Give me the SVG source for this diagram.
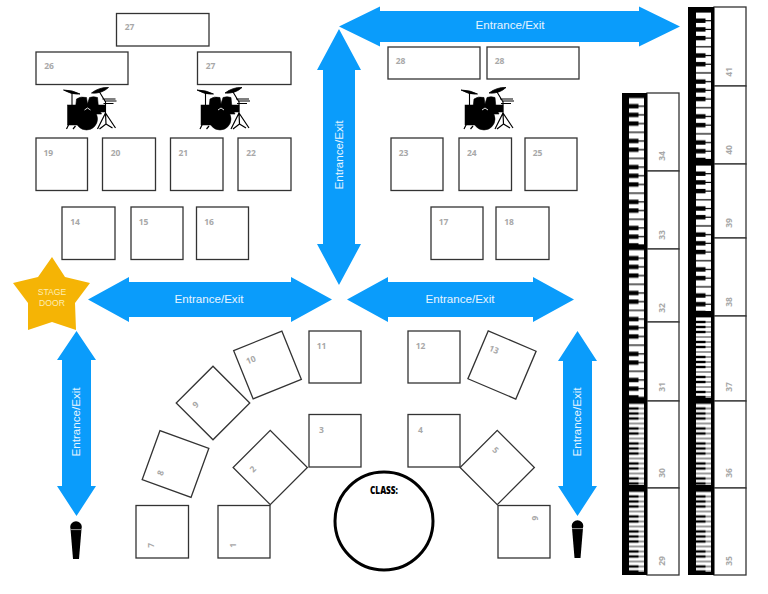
<svg xmlns="http://www.w3.org/2000/svg" width="768" height="594" viewBox="0 0 768 594">
<style>
.seat{fill:#fff;stroke:#333;stroke-width:1.3}
.num{fill:#a8a8a8;font:bold 8.5px "Open Sans","DejaVu Sans",sans-serif;text-anchor:middle}
.arrow{fill:#0a9cfb}
.lbl{fill:#e8f5ff;font:11.6px "Liberation Sans",Arial,sans-serif;text-anchor:middle}
.frame{fill:#000}
.star{fill:#f5b405}
.st{fill:#fdeeb5;font:8.6px "Liberation Sans",Arial,sans-serif;text-anchor:middle}
</style>
<defs>
<pattern id="bigKeys" width="15" height="60.9" patternUnits="userSpaceOnUse">
<rect width="15" height="60.9" fill="#fff"/>
<g fill="#000">
<rect y="8.1" width="15" height="1.2"/><rect y="16.8" width="15" height="1.2"/><rect y="25.5" width="15" height="1.2"/><rect y="34.2" width="15" height="1.2"/><rect y="42.9" width="15" height="1.2"/><rect y="51.6" width="15" height="1.2"/><rect y="60.3" width="15" height="0.6"/><rect y="0" width="15" height="0.6"/>
<rect y="6.5" width="9.5" height="4.4"/><rect y="15.2" width="9.5" height="4.4"/><rect y="23.9" width="9.5" height="4.4"/><rect y="41.3" width="9.5" height="4.4"/><rect y="50" width="9.5" height="4.4"/>
</g>
</pattern>
<pattern id="smallKeys" width="15" height="35" patternUnits="userSpaceOnUse">
<rect width="15" height="35" fill="#fff"/>
<g fill="#000">
<rect y="4.6" width="15" height="0.8"/><rect y="9.6" width="15" height="0.8"/><rect y="14.6" width="15" height="0.8"/><rect y="19.6" width="15" height="0.8"/><rect y="24.6" width="15" height="0.8"/><rect y="29.6" width="15" height="0.8"/><rect y="34.6" width="15" height="0.4"/><rect y="0" width="15" height="0.4"/>
<rect y="3.8" width="9.5" height="2.4"/><rect y="8.8" width="9.5" height="2.4"/><rect y="13.8" width="9.5" height="2.4"/><rect y="23.8" width="9.5" height="2.4"/><rect y="28.8" width="9.5" height="2.4"/>
</g>
</pattern>
<symbol id="drums" overflow="visible">
<g fill="#000" stroke="#000">
<path d="M0 2 Q9 2 16.500 6 Q8 7 0 2Z M28 5 Q36 -1 45 -0.500 Q38 6 28 5Z" stroke-width="0.8"/>
<path d="M8.500 5V20 M36 4L42 14V26 M39 11H52 M41 13H53 M40 15.500H50" fill="none" stroke-width="1.1"/>
<path d="M12 20 L13 11 Q17 8 23 9.500 L24 16 L26 9.500 Q30 8 34 9.500 L35 20 L38 26 L9 26Z" stroke-width="0.6"/>
<rect x="4" y="17" width="11" height="20" stroke-width="0.5"/>
<rect x="33" y="17" width="9" height="7" stroke-width="0.5"/>
<circle cx="23" cy="31" r="11" stroke-width="0.5"/>
<path d="M21 22 L24 20 L27 22" fill="none" stroke="#fff" stroke-width="0.9"/>
<path d="M5.500 36 L3 41 M12 38 L9.500 41 M42 25 L34 41 M42 25 L52 40 M42 25 L42.500 36 L36 41 M42.500 36 L49 40" fill="none" stroke-width="1.2"/>
</g>
</symbol>
<symbol id="mic" overflow="visible">
<circle cx="0" cy="0" r="5.8" fill="#000"/>
<path d="M-5.500 2 L-3 32 H3 L5.500 2Z" fill="#000"/>
<path d="M-5.500 2.600 H5.500" stroke="#fff" stroke-width="0.6"/>
</symbol>
</defs>
<rect width="768" height="594" fill="#fff"/>

<g id="connectors">
<g id="arrow-top"><polygon class="arrow" points="339,26.5 380,6.5 380,11 639,11 639,6.5 680,26.5 639,46.5 639,42 380,42 380,46.5"/><text class="lbl" x="510" y="29">Entrance/Exit</text></g>
<g id="arrow-center-v"><polygon class="arrow" points="339,29 361,70 355,70 355,244 361,244 339,285 317,244 323,244 323,70 317,70"/><text class="lbl" transform="translate(343,155) rotate(-90)">Entrance/Exit</text></g>
<g id="arrow-left-h"><polygon class="arrow" points="88,299.5 129,277 129,282 291,282 291,277 332,299.5 291,322 291,317 129,317 129,322"/><text class="lbl" x="209" y="302.5">Entrance/Exit</text></g>
<g id="arrow-right-h"><polygon class="arrow" points="347,299.5 388,277 388,282 533,282 533,277 574,299.5 533,322 533,317 388,317 388,322"/><text class="lbl" x="460" y="302.5">Entrance/Exit</text></g>
<g id="arrow-left-v"><polygon class="arrow" points="76.5,331 96,360 91,360 91,486 96,486 76.5,516 57,486 62,486 62,360 57,360"/><text class="lbl" transform="translate(80,422) rotate(-90)">Entrance/Exit</text></g>
<g id="arrow-right-v"><polygon class="arrow" points="577.5,331 597,361 592,361 592,486 597,486 577.5,516 558,486 563,486 563,361 558,361"/><text class="lbl" transform="translate(581,422) rotate(-90)">Entrance/Exit</text></g>
</g>

<g id="star"><polygon class="star" points="52,257 65,277 90,283 75,303 76,330 52,322 28,330 28,303 13,283 38,277"/><text class="st" x="52" y="295">STAGE</text><text class="st" x="52" y="306">DOOR</text></g>

<g id="seat-27a" transform="translate(116.5,13.5)"><rect class="seat" width="92.5" height="32.5"/><text class="num" x="13" y="16.5">27</text></g>
<g id="seat-26" transform="translate(36,52)"><rect class="seat" width="92" height="32.5"/><text class="num" x="13" y="17">26</text></g>
<g id="seat-27b" transform="translate(197.5,52)"><rect class="seat" width="93.5" height="32.5"/><text class="num" x="13" y="17">27</text></g>
<g id="seat-28a" transform="translate(388,47)"><rect class="seat" width="92" height="32"/><text class="num" x="12.500" y="17">28</text></g>
<g id="seat-28b" transform="translate(487,47)"><rect class="seat" width="92" height="32"/><text class="num" x="12.500" y="17">28</text></g>

<g id="seat-19" transform="translate(61.75,164.25)"><rect class="seat" x="-25.75" y="-26.25" width="51.5" height="52.5"/><text class="num" x="-13.500" y="-8">19</text></g>
<g id="seat-20" transform="translate(129,164.25)"><rect class="seat" x="-26.5" y="-26.25" width="53" height="52.5"/><text class="num" x="-13.500" y="-8">20</text></g>
<g id="seat-21" transform="translate(196.75,164.25)"><rect class="seat" x="-26.25" y="-26.25" width="52.5" height="52.5"/><text class="num" x="-13.500" y="-8">21</text></g>
<g id="seat-22" transform="translate(264.5,164.25)"><rect class="seat" x="-26.5" y="-26.25" width="53" height="52.5"/><text class="num" x="-13.500" y="-8">22</text></g>
<g id="seat-23" transform="translate(417,164.25)"><rect class="seat" x="-26" y="-26.25" width="52" height="52.5"/><text class="num" x="-13.500" y="-8">23</text></g>
<g id="seat-24" transform="translate(485.25,164.25)"><rect class="seat" x="-26.25" y="-26.25" width="52.5" height="52.5"/><text class="num" x="-13.500" y="-8">24</text></g>
<g id="seat-25" transform="translate(551,164.25)"><rect class="seat" x="-26" y="-26.25" width="52" height="52.5"/><text class="num" x="-13.500" y="-8">25</text></g>
<g id="seat-14" transform="translate(88.5,233.25)"><rect class="seat" x="-26.5" y="-26.25" width="53" height="52.5"/><text class="num" x="-13.500" y="-8">14</text></g>
<g id="seat-15" transform="translate(157,233.25)"><rect class="seat" x="-26" y="-26.25" width="52" height="52.5"/><text class="num" x="-13.500" y="-8">15</text></g>
<g id="seat-16" transform="translate(222.5,233.25)"><rect class="seat" x="-26" y="-26.25" width="52" height="52.5"/><text class="num" x="-13.500" y="-8">16</text></g>
<g id="seat-17" transform="translate(457,233.25)"><rect class="seat" x="-26" y="-26.25" width="52" height="52.5"/><text class="num" x="-13.500" y="-8">17</text></g>
<g id="seat-18" transform="translate(522.5,233.25)"><rect class="seat" x="-26.5" y="-26.25" width="53" height="52.5"/><text class="num" x="-13.500" y="-8">18</text></g>

<g id="seat-11" transform="translate(335,357)"><rect class="seat" x="-26" y="-26" width="52" height="52"/><text class="num" x="-13.500" y="-8">11</text></g>
<g id="seat-12" transform="translate(434,357)"><rect class="seat" x="-26" y="-26" width="52" height="52"/><text class="num" x="-13.500" y="-8">12</text></g>
<g id="seat-3" transform="translate(335,440.75)"><rect class="seat" x="-26" y="-26.25" width="52" height="52.5"/><text class="num" x="-13.500" y="-8">3</text></g>
<g id="seat-4" transform="translate(434,440.75)"><rect class="seat" x="-26" y="-26.25" width="52" height="52.5"/><text class="num" x="-13.500" y="-8">4</text></g>
<g id="seat-13" transform="translate(502,365) rotate(23)"><rect class="seat" x="-26" y="-26" width="52" height="52"/><text class="num" x="-13.500" y="-8">13</text></g>
<g id="seat-5" transform="translate(497.25,467.5) rotate(45)"><rect class="seat" x="-26.250" y="-26.250" width="52.5" height="52.5"/><text class="num" x="-13.500" y="-8">5</text></g>
<g id="seat-6" transform="translate(524,531.75) rotate(90)"><rect class="seat" x="-26.250" y="-26" width="52.5" height="52"/><text class="num" x="-13.500" y="-8">6</text></g>
<g id="seat-7" transform="translate(162.25,531.75) rotate(-90)"><rect class="seat" x="-26.250" y="-26.250" width="52.5" height="52.5"/><text class="num" x="-13.500" y="-8">7</text></g>
<g id="seat-1" transform="translate(244,531.75) rotate(-90)"><rect class="seat" x="-26.250" y="-26" width="52.5" height="52"/><text class="num" x="-13.500" y="-8">1</text></g>
<g id="seat-2" transform="translate(270.25,467.5) rotate(-45)"><rect class="seat" x="-26.250" y="-26.250" width="52.5" height="52.5"/><text class="num" x="-13.500" y="-8">2</text></g>
<g id="seat-8" transform="translate(175.5,464) rotate(-70)"><rect class="seat" x="-26" y="-26" width="52" height="52"/><text class="num" x="-13.500" y="-8">8</text></g>
<g id="seat-9" transform="translate(213,403) rotate(-45)"><rect class="seat" x="-26" y="-26" width="52" height="52"/><text class="num" x="-13.500" y="-8">9</text></g>
<g id="seat-10" transform="translate(267.5,365) rotate(-22)"><rect class="seat" x="-26" y="-26" width="52" height="52"/><text class="num" x="-13.500" y="-8">10</text></g>

<g id="class-circle"><circle cx="384" cy="521" r="49" fill="#fff" stroke="#000" stroke-width="3"/><text x="384" y="494" text-anchor="middle" style="font:800 10.5px 'Open Sans',sans-serif" textLength="28" lengthAdjust="spacingAndGlyphs">CLASS:</text></g>

<g id="drums-1"><use href="#drums" transform="translate(63.5,88)"/></g>
<g id="drums-2"><use href="#drums" transform="translate(197,88)"/></g>
<g id="drums-3"><use href="#drums" transform="translate(461,88)"/></g>
<g id="mic-left"><use href="#mic" transform="translate(76,527)"/></g>
<g id="mic-right"><use href="#mic" transform="translate(577.5,526)"/></g>

<g id="keyboard-left">
<g id="seat-34" transform="translate(647,93)"><rect class="seat" width="32" height="78"/><text class="num" transform="translate(18,63) rotate(-90)">34</text></g>
<g id="seat-33" transform="translate(647,171)"><rect class="seat" width="32" height="78"/><text class="num" transform="translate(18,64) rotate(-90)">33</text></g>
<g id="seat-32" transform="translate(647,249)"><rect class="seat" width="32" height="73"/><text class="num" transform="translate(18,59) rotate(-90)">32</text></g>
<g id="seat-31" transform="translate(647,322)"><rect class="seat" width="32" height="79"/><text class="num" transform="translate(18,65) rotate(-90)">31</text></g>
<g id="seat-30" transform="translate(647,401)"><rect class="seat" width="32" height="87"/><text class="num" transform="translate(18,72) rotate(-90)">30</text></g>
<g id="seat-29" transform="translate(647,488)"><rect class="seat" width="32" height="87"/><text class="num" transform="translate(18,73) rotate(-90)">29</text></g>
<g transform="translate(629,97.5)"><rect class="frame" x="-7" y="-4.500" width="25" height="155"/><rect width="15" height="147" fill="url(#bigKeys)"/></g>
<g transform="translate(629,249.5)"><rect class="frame" x="-7" y="-1.500" width="25" height="153"/><rect width="15" height="148" fill="url(#bigKeys)"/></g>
<g transform="translate(629,403.5)"><rect class="frame" x="-7" y="-2.500" width="25" height="87"/><rect width="15" height="81.500" fill="url(#smallKeys)"/></g>
<g transform="translate(629,491.5)"><rect class="frame" x="-7" y="-3.500" width="25" height="87"/><rect width="15" height="80.500" fill="url(#smallKeys)"/></g>
</g>

<g id="keyboard-right">
<g id="seat-41" transform="translate(714,7)"><rect class="seat" width="32" height="79"/><text class="num" transform="translate(18,65) rotate(-90)">41</text></g>
<g id="seat-40" transform="translate(714,86)"><rect class="seat" width="32" height="78"/><text class="num" transform="translate(18,64) rotate(-90)">40</text></g>
<g id="seat-39" transform="translate(714,164)"><rect class="seat" width="32" height="74"/><text class="num" transform="translate(18,59) rotate(-90)">39</text></g>
<g id="seat-38" transform="translate(714,238)"><rect class="seat" width="32" height="78"/><text class="num" transform="translate(18,64) rotate(-90)">38</text></g>
<g id="seat-37" transform="translate(714,316)"><rect class="seat" width="32" height="85"/><text class="num" transform="translate(18,71) rotate(-90)">37</text></g>
<g id="seat-36" transform="translate(714,401)"><rect class="seat" width="32" height="87"/><text class="num" transform="translate(18,72) rotate(-90)">36</text></g>
<g id="seat-35" transform="translate(714,488)"><rect class="seat" width="32" height="87"/><text class="num" transform="translate(18,73) rotate(-90)">35</text></g>
<g transform="translate(696,12)"><rect class="frame" x="-8" y="-5" width="26" height="157"/><rect width="15" height="147" fill="url(#bigKeys)"/></g>
<g transform="translate(696,165)"><rect class="frame" x="-8" y="-1" width="26" height="152"/><rect width="15" height="146" fill="url(#bigKeys)"/></g>
<g transform="translate(696,317)"><rect class="frame" x="-8" y="-1" width="26" height="85"/><rect width="15" height="81" fill="url(#smallKeys)"/></g>
<g transform="translate(696,403.5)"><rect class="frame" x="-8" y="-2.500" width="26" height="87"/><rect width="15" height="81.500" fill="url(#smallKeys)"/></g>
<g transform="translate(696,491.5)"><rect class="frame" x="-8" y="-3.500" width="26" height="87"/><rect width="15" height="80.500" fill="url(#smallKeys)"/></g>
</g>
</svg>
